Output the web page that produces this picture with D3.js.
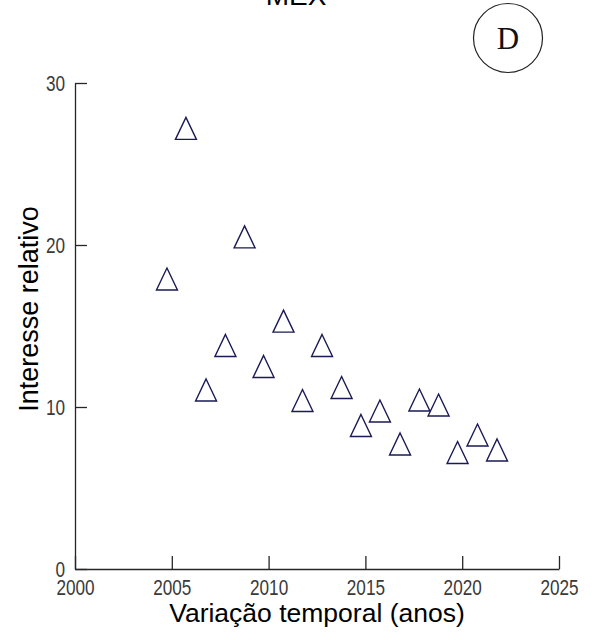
<!DOCTYPE html>
<html>
<head>
<meta charset="utf-8">
<script src="https://cdn.jsdelivr.net/npm/d3@7/dist/d3.min.js"></script>
<style>
  html, body { margin: 0; padding: 0; background: #fff; }
  svg { display: block; }
</style>
</head>
<body>
<svg id="chart" width="594" height="640"></svg>
<script>
// ---- data ----
const chartTitle = "MEX";
const panelLabel = "D";
const xLabel = "Variação temporal (anos)";
const yLabel = "Interesse relativo";
const years = [2004.75, 2005.73, 2006.77, 2007.77, 2008.76, 2009.74, 2010.77, 2011.75, 2012.76,
               2013.77, 2014.77, 2015.75, 2016.79, 2017.79, 2018.78, 2019.76, 2020.79, 2021.80];
const values = [17.9, 27.2, 11.05, 13.8, 20.5, 12.5, 15.3, 10.4, 13.8,
                11.2, 8.86, 9.75, 7.72, 10.43, 10.12, 7.19, 8.27, 7.35];
const xTicks = [2000, 2005, 2010, 2015, 2020, 2025];
const yTicks = [0, 10, 20, 30];

// ---- layout ----
const svg = d3.select("#chart");
const mLeft = 75, mRight = 559, mTop = 83, mBottom = 569;
const x = d3.scaleLinear().domain([2000, 2025]).range([mLeft, mRight]);
const y = d3.scaleLinear().domain([0, 30]).range([mBottom, mTop]);
const tickFont = "Arial, 'Liberation Sans', sans-serif";
const labelFont = "Arial, 'Liberation Sans', sans-serif";
const sx = 0.78; // narrow tick digits

// x axis
const gx = svg.append("g").attr("transform", `translate(0,${mBottom})`)
  .call(d3.axisBottom(x).tickValues(xTicks).tickFormat(d3.format("d"))
        .tickSizeInner(-13).tickSizeOuter(0).tickPadding(10));
// y axis
const gy = svg.append("g").attr("transform", `translate(${mLeft},0)`)
  .call(d3.axisLeft(y).tickValues(yTicks).tickFormat(d3.format("d"))
        .tickSizeInner(-12).tickSizeOuter(0).tickPadding(10));

[gx, gy].forEach(g => {
  g.select(".domain").attr("stroke", "#262626").attr("stroke-width", 1.3);
  g.selectAll(".tick line").attr("stroke", "#262626").attr("stroke-width", 1.3);
  g.selectAll(".tick text").attr("font-family", tickFont).attr("font-size", 22)
    .attr("fill", "#3a3a3a");
});
gx.selectAll(".tick text").attr("transform", `scale(${sx},1)`);
gy.selectAll(".tick text").attr("x", -10 / sx).attr("transform", `scale(${sx},1)`);

// markers
const tw = 21, th = 22;
const tri = `M0,${-th/2}L${tw/2},${th/2}L${-tw/2},${th/2}Z`;
svg.append("g").selectAll("path").data(years.map((yr, i) => [yr, values[i]]))
  .join("path")
  .attr("d", tri)
  .attr("transform", d => `translate(${x(d[0])},${y(d[1])})`)
  .attr("fill", "none")
  .attr("stroke", "#1a1a55")
  .attr("stroke-width", 1.4)
  .attr("stroke-linejoin", "miter");

// axis titles
svg.append("text")
  .attr("x", (mLeft + mRight) / 2).attr("y", 622)
  .attr("text-anchor", "middle")
  .attr("font-family", labelFont).attr("font-size", 26.5)
  .attr("fill", "#000")
  .text(xLabel);

svg.append("text")
  .attr("transform", `translate(38,${309}) rotate(-90)`)
  .attr("text-anchor", "middle")
  .attr("font-family", labelFont).attr("font-size", 27)
  .attr("fill", "#000")
  .text(yLabel);

// title (cut off at top)
svg.append("text")
  .attr("x", 296).attr("y", 5)
  .attr("text-anchor", "middle")
  .attr("font-family", labelFont).attr("font-size", 28)
  .attr("fill", "#000")
  .text(chartTitle);

// panel label circle
svg.append("circle")
  .attr("cx", 508).attr("cy", 38).attr("r", 34.5)
  .attr("fill", "none").attr("stroke", "#222").attr("stroke-width", 1.2);
svg.append("text")
  .attr("x", 508).attr("y", 49)
  .attr("text-anchor", "middle")
  .attr("font-family", "'Liberation Serif', 'Times New Roman', serif")
  .attr("font-size", 31)
  .attr("fill", "#111")
  .text(panelLabel);
</script>
</body>
</html>
